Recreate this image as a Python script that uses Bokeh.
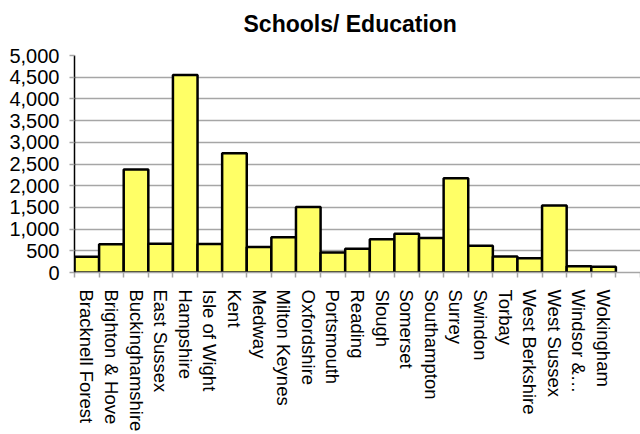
import math
from bokeh.plotting import figure
from bokeh.models import FixedTicker, NumeralTickFormatter, ColumnDataSource, Range1d, Title
from bokeh.embed import file_html
from bokeh.resources import INLINE

# ---- data ----
areas = ["Bracknell Forest", "Brighton & Hove", "Buckinghamshire", "East Sussex",
         "Hampshire", "Isle of Wight", "Kent", "Medway", "Milton Keynes",
         "Oxfordshire", "Portsmouth", "Reading", "Slough", "Somerset",
         "Southampton", "Surrey", "Swindon", "Torbay", "West Berkshire",
         "West Sussex", "Windsor &\u2026", "Wokingham"]
values = [365, 650, 2375, 660, 4550, 655, 2750, 590, 810, 1510, 460, 545,
          765, 895, 795, 2170, 615, 370, 330, 1545, 145, 135]
y_ticks = [0, 500, 1000, 1500, 2000, 2500, 3000, 3500, 4000, 4500, 5000]
title_text = "Schools/ Education"

n_slots = len(areas) + 1  # one trailing empty category slot
centers = [i + 0.5 for i in range(len(areas))]
boundaries = list(range(n_slots + 1))

src = ColumnDataSource(dict(x=centers, top=values, name=areas))

FONT = "Liberation Sans"

p = figure(width=640, height=434, output_backend="svg", toolbar_location=None,
           x_range=Range1d(0, n_slots), y_range=Range1d(0, y_ticks[-1]),
           min_border_left=74, min_border_right=0, min_border_top=55,
           min_border_bottom=159, title=title_text)

p.title.text_font = FONT
p.title.text_font_size = "23px"
p.title.text_font_style = "bold"
p.title.align = "left"
p.title.offset = 169
p.title.text_color = "black"
p.title.standoff = 0

# blank spacer between the title and the plot area
p.add_layout(Title(text=" ", text_font_size="16px", standoff=0), "above")

p.vbar(x="x", top="top", bottom=0, width=1.0, source=src,
       fill_color="#FFFF66", line_color="black", line_width=2.5)

p.outline_line_color = None
p.background_fill_color = "white"
p.border_fill_color = "white"

# y axis
p.yaxis.ticker = FixedTicker(ticks=y_ticks)
p.yaxis.formatter = NumeralTickFormatter(format="0,0")
p.yaxis.major_label_text_font = FONT
p.yaxis.major_label_text_font_size = "20px"
p.yaxis.major_label_text_color = "black"
p.yaxis.axis_line_color = "black"
p.yaxis.axis_line_width = 1.5
p.yaxis.major_tick_line_color = "#A6A6A6"
p.yaxis.major_tick_line_width = 1.5
p.yaxis.major_tick_out = 5
p.yaxis.major_tick_in = 0
p.yaxis.minor_tick_line_color = None
p.yaxis.major_label_standoff = 10

# x axis: labels at centers, ticks at slot boundaries (minor ticks)
p.xaxis.ticker = FixedTicker(ticks=centers, minor_ticks=boundaries)
p.xaxis.major_label_overrides = {c: a for c, a in zip(centers, areas)}
p.xaxis.major_label_orientation = -math.pi / 2
p.xaxis.major_label_text_font = FONT
p.xaxis.major_label_text_font_size = "18.5px"
p.xaxis.major_label_text_color = "black"
p.xaxis.axis_line_color = "#A6A6A6"
p.xaxis.axis_line_width = 1.5
p.xaxis.major_tick_line_color = None
p.xaxis.major_tick_out = 0
p.xaxis.major_tick_in = 0
p.xaxis.minor_tick_line_color = "#A6A6A6"
p.xaxis.minor_tick_line_width = 1.5
p.xaxis.minor_tick_out = 5
p.xaxis.minor_tick_in = 0
p.xaxis.major_label_standoff = 12

p.xgrid.grid_line_color = None
p.ygrid.grid_line_color = "#A6A6A6"
p.ygrid.grid_line_width = 1.5
p.ygrid.level = "underlay"

open("out.html", "w").write(file_html(p, INLINE))
